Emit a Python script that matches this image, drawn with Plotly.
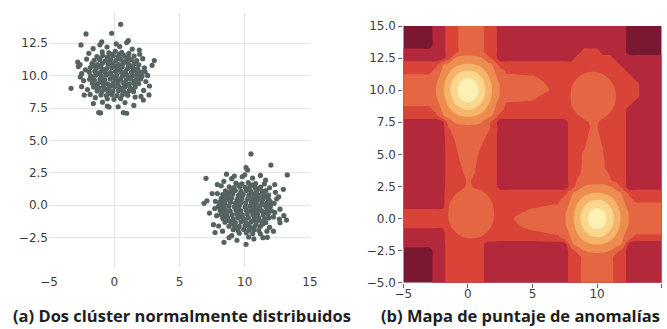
import plotly.graph_objects as go

# ---------------- (a) two normally distributed clusters ----------------
cluster_a = [
    (-0.92, 11.83), (-0.41, 11.76), (0.08, 11.88), (0.57, 11.79), (1.12, 11.72),
    (-1.33, 11.47), (-0.88, 11.55), (-0.52, 11.44), (-0.07, 11.52), (0.31, 11.46), (0.74, 11.56), (1.08, 11.43), (1.52, 11.51),
    (-1.54, 11.18), (-1.12, 11.24), (-0.69, 11.15), (-0.28, 11.22), (0.13, 11.17), (0.49, 11.26), (0.93, 11.14), (1.31, 11.21), (1.72, 11.16),
    (-1.71, 10.93), (-1.28, 10.86), (-0.91, 10.95), (-0.47, 10.88), (-0.12, 10.92), (0.33, 10.85), (0.68, 10.94), (1.09, 10.87), (1.53, 10.91), (1.88, 10.84),
    (-1.83, 10.62), (-1.38, 10.57), (-1.02, 10.64), (-0.58, 10.55), (-0.19, 10.63), (0.22, 10.58), (0.61, 10.66), (1.03, 10.56), (1.41, 10.61), (1.79, 10.57),
    (-1.92, 10.28), (-1.49, 10.33), (-1.07, 10.26), (-0.71, 10.31), (-0.28, 10.24), (0.09, 10.32), (0.52, 10.27), (0.88, 10.34), (1.32, 10.25), (1.69, 10.30), (2.04, 10.27),
    (-1.81, 9.98), (-1.42, 10.03), (-0.98, 9.96), (-0.62, 10.04), (-0.17, 9.97), (0.19, 10.02), (0.63, 9.95), (0.97, 10.05), (1.42, 9.99), (1.77, 10.01), (2.13, 9.96),
    (-1.89, 9.72), (-1.52, 9.66), (-1.09, 9.71), (-0.73, 9.68), (-0.31, 9.74), (0.12, 9.67), (0.48, 9.73), (0.91, 9.66), (1.28, 9.72), (1.71, 9.69), (2.02, 9.74),
    (-1.68, 9.41), (-1.27, 9.37), (-0.88, 9.43), (-0.52, 9.36), (-0.08, 9.42), (0.29, 9.38), (0.72, 9.44), (1.13, 9.35), (1.49, 9.41), (1.87, 9.39),
    (-1.58, 9.12), (-1.19, 9.06), (-0.82, 9.13), (-0.38, 9.08), (0.03, 9.14), (0.41, 9.07), (0.79, 9.11), (1.22, 9.05), (1.61, 9.12),
    (-1.31, 8.82), (-0.93, 8.77), (-0.48, 8.84), (-0.11, 8.79), (0.32, 8.83), (0.71, 8.76), (1.12, 8.81), (1.48, 8.78),
    (-1.02, 8.51), (-0.61, 8.47), (-0.18, 8.53), (0.21, 8.46), (0.63, 8.52), (1.04, 8.48),
    (-0.53, 8.21), (-0.02, 8.17), (0.49, 8.23),
    (-0.20, 11.65), (0.40, 11.66), (-1.10, 11.35), (0.95, 11.33), (-0.45, 11.05), (0.70, 11.06), (-1.50, 10.75), (0.05, 10.75),
    (1.25, 10.74), (-0.85, 10.45), (0.40, 10.44), (1.55, 10.43), (-1.30, 10.15), (-0.40, 10.14), (0.80, 10.16), (1.95, 10.12),
    (-1.70, 9.85), (-0.10, 9.84), (1.10, 9.86), (-0.95, 9.55), (0.30, 9.54), (1.55, 9.56), (-1.40, 9.25), (-0.20, 9.25),
    (1.00, 9.26), (-0.70, 8.95), (0.55, 8.96), (1.35, 8.95), (-0.35, 8.65), (0.85, 8.64),
    (-2.21, 10.45), (-2.35, 9.62), (-2.12, 11.28), (-2.05, 8.93), (2.31, 10.60), (2.42, 9.55), (2.18, 11.31), (2.25, 8.86),
    (-1.62, 12.08), (-0.55, 12.21), (0.42, 12.25), (1.38, 12.05), (-1.45, 8.30), (1.60, 8.35), (-0.90, 7.95), (0.82, 7.92),
    (2.56, 10.02), (-2.50, 10.15), (-1.95, 11.72), (1.95, 11.65), (-1.85, 8.55), (2.05, 8.40), (0.15, 12.45), (-1.10, 12.38),
    (0.95, 12.55), (-2.62, 10.85), (2.70, 9.20),
    (0.49, 13.96), (-2.16, 13.22), (-0.20, 13.27), (-2.55, 12.37), (3.07, 11.16), (-3.31, 9.02), (-2.50, 9.15), (-1.19, 7.15),
    (-1.05, 7.12), (0.70, 7.15), (0.95, 7.10), (-0.53, 7.66), (-0.40, 7.58), (2.23, 8.12), (2.66, 8.51), (-2.75, 10.70),
    (-2.60, 9.90), (-2.80, 11.05), (2.36, 10.30), (-0.96, 12.60), (1.08, 12.70), (1.92, 11.98), (-1.60, 7.85), (0.30, 7.60),
    (1.50, 7.70), (-2.30, 8.50), (2.90, 10.80),
]

cluster_b = [
    (9.32, 1.71), (9.78, 1.66), (10.27, 1.74), (10.83, 1.68),
    (8.81, 1.42), (9.18, 1.37), (9.62, 1.44), (10.03, 1.38), (10.41, 1.45), (10.79, 1.36), (11.22, 1.41),
    (8.52, 1.12), (8.91, 1.06), (9.28, 1.13), (9.71, 1.07), (10.12, 1.14), (10.49, 1.05), (10.91, 1.11), (11.33, 1.08), (11.62, 1.13),
    (8.31, 0.82), (8.72, 0.77), (9.08, 0.84), (9.52, 0.76), (9.88, 0.83), (10.31, 0.78), (10.69, 0.85), (11.12, 0.77), (11.48, 0.82), (11.83, 0.79),
    (8.19, 0.51), (8.62, 0.47), (8.98, 0.53), (9.41, 0.46), (9.79, 0.52), (10.22, 0.48), (10.58, 0.54), (11.03, 0.46), (11.39, 0.51), (11.81, 0.48),
    (8.08, 0.22), (8.49, 0.17), (8.91, 0.23), (9.29, 0.16), (9.72, 0.21), (10.08, 0.18), (10.52, 0.24), (10.88, 0.16), (11.31, 0.22), (11.69, 0.18), (12.02, 0.21),
    (7.98, -0.09), (8.42, -0.14), (8.79, -0.07), (9.21, -0.12), (9.58, -0.06), (10.02, -0.13), (10.39, -0.08), (10.81, -0.14), (11.18, -0.07), (11.62, -0.12), (11.96, -0.08),
    (8.11, -0.41), (8.53, -0.37), (8.88, -0.43), (9.32, -0.36), (9.69, -0.42), (10.12, -0.38), (10.48, -0.44), (10.92, -0.36), (11.28, -0.42), (11.71, -0.38), (12.04, -0.43),
    (8.18, -0.72), (8.61, -0.66), (9.02, -0.73), (9.38, -0.67), (9.81, -0.74), (10.19, -0.68), (10.62, -0.72), (10.98, -0.66), (11.42, -0.73), (11.79, -0.69),
    (8.32, -1.02), (8.69, -0.96), (9.12, -1.04), (9.48, -0.97), (9.91, -1.03), (10.28, -0.98), (10.71, -1.05), (11.08, -0.97), (11.52, -1.02), (11.83, -0.98),
    (8.48, -1.31), (8.92, -1.27), (9.28, -1.34), (9.71, -1.28), (10.09, -1.33), (10.52, -1.26), (10.88, -1.32), (11.31, -1.28), (11.62, -1.33),
    (8.79, -1.62), (9.21, -1.57), (9.58, -1.63), (10.02, -1.58), (10.38, -1.64), (10.82, -1.57), (11.19, -1.61),
    (9.12, -1.88), (9.49, -1.93), (9.92, -1.87), (10.31, -1.92), (10.72, -1.89), (11.08, -1.94),
    (9.58, -2.16), (10.12, -2.12), (10.61, -2.18),
    (9.55, 1.55), (10.55, 1.58), (9.00, 1.25), (10.25, 1.22), (11.00, 1.26), (8.60, 0.95), (9.70, 0.93), (10.90, 0.95),
    (8.45, 0.65), (9.60, 0.64), (10.80, 0.66), (11.60, 0.65), (8.30, 0.35), (9.50, 0.34), (10.70, 0.36), (11.90, 0.34),
    (8.20, 0.05), (9.40, 0.04), (10.60, 0.05), (11.50, 0.06), (8.30, -0.25), (9.50, -0.24), (10.70, -0.26), (11.85, -0.24),
    (8.40, -0.55), (9.60, -0.56), (10.80, -0.54), (11.60, -0.55), (8.50, -0.85), (9.70, -0.86), (10.90, -0.84), (8.70, -1.15),
    (9.90, -1.16), (11.10, -1.14), (9.10, -1.45), (10.30, -1.46), (11.40, -1.45), (9.40, -1.75), (10.60, -1.76),
    (7.75, 0.30), (7.85, -0.80), (12.25, 0.15), (12.20, -0.90), (9.00, 2.05), (10.60, 2.10), (9.80, 2.20), (11.50, 1.65),
    (8.20, 1.50), (8.00, -1.60), (11.90, -1.70), (9.00, -2.35), (10.30, -2.45), (11.20, -2.20), (12.35, 1.00), (7.90, 0.90),
    (12.30, -0.55), (7.70, -0.25), (8.40, 1.85), (11.90, 1.35), (8.30, -2.00), (11.70, -2.00), (10.00, 2.35), (12.45, 0.50),
    (10.48, 3.96), (10.10, 2.90), (10.22, 2.72), (12.00, 3.10), (13.26, 2.34), (7.03, 2.08), (12.96, 1.23), (6.88, 0.15),
    (13.20, -1.14), (12.65, -1.06), (7.72, -2.10), (8.41, -2.86), (10.10, -3.01), (11.40, -2.50), (11.73, -2.47), (12.70, -1.34),
    (7.50, 0.90), (7.30, -0.60), (12.60, 0.65), (12.70, -0.30), (8.60, 2.40), (9.20, 2.25), (11.20, 2.30), (11.60, 1.95),
    (7.90, 1.60), (12.30, 1.60), (7.60, -1.50), (8.80, -2.50), (9.40, -2.70), (10.70, -2.60), (12.20, -2.00), (7.10, 0.35),
    (13.00, -0.80),
]

scatter_xticks = [-5, 0, 5, 10, 15]
scatter_yticks = [-2.5, 0.0, 2.5, 5.0, 7.5, 10.0, 12.5]

# ---------------- (b) anomaly-score map read at grid nodes ----------------
grid_x = [-5.0, -4.5, -4.0, -3.5, -3.0, -2.5, -2.0, -1.5, -1.0, -0.5, 0.0, 0.5, 1.0, 1.5,
          2.0, 2.5, 3.0, 3.5, 4.0, 4.5, 5.0, 5.5, 6.0, 6.5, 7.0, 7.5, 8.0, 8.5, 9.0, 9.5,
          10.0, 10.5, 11.0, 11.5, 12.0, 12.5, 13.0, 13.5, 14.0, 14.5, 15.0]
grid_y_top_down = [15.0, 14.5, 14.0, 13.5, 13.0, 12.5, 12.0, 11.5, 11.0, 10.5, 10.0, 9.5, 9.0,
                   8.5, 8.0, 7.5, 7.0, 6.5, 6.0, 5.5, 5.0, 4.5, 4.0, 3.5, 3.0, 2.5, 2.0, 1.5,
                   1.0, 0.5, 0.0, -0.5, -1.0, -1.5, -2.0, -2.5, -3.0, -3.5, -4.0, -4.5, -5.0]
# coarse band level per node (0 = darkest ... 7 = palest), one row per grid_y (top to bottom)
score_rows = [
    "00000 11 22 3333 22 11111111111 11 11111 11 000000",
    "00000 11 22 3333 22 11111111111 11 11111 11 000000",
    "00000 11 22 3333 22 11111111111 11 11111 11 000000",
    "00000 11 22 3333 22 11111111111 11 11111 11 000000",
    "11111 11 22 3333 22 11111111111 11 22211 11 000000",
    "11111 11 23 4443 32 11111111111 12 22222 11 111111",
    "22222 23 44 4544 43 22222222222 22 22222 21 111111",
    "22222 34 45 5555 44 32222222222 22 23322 22 111111",
    "33333 34 55 6665 54 33333322222 23 33332 22 211111",
    "33333 34 56 7776 54 33333332222 33 33333 22 221111",
    "33333 34 56 7776 54 33333333222 33 33333 22 221111",
    "33333 34 56 7776 54 33333332222 33 33333 22 221111",
    "33333 34 55 6665 54 32222222222 33 33333 22 211111",
    "22222 34 45 5555 44 32222222222 23 33332 22 111111",
    "22222 23 44 4544 43 22222222222 22 33332 22 111111",
    "11111 11 34 4444 32 11111111111 22 23322 22 111111",
    "11111 11 23 3333 32 11111111111 22 22322 22 111111",
    "11111 11 23 3333 22 11111111111 22 23322 22 111111",
    "11111 11 22 3333 22 11111111111 22 23322 22 111111",
    "11111 11 22 3332 22 11111111111 22 23322 22 111111",
    "11111 11 22 3332 22 11111111111 22 33332 22 111111",
    "11111 11 22 2332 22 11111111111 22 33332 22 111111",
    "11111 11 22 2332 22 11111111111 22 33332 22 111111",
    "11111 11 22 2332 22 11111111111 22 33332 22 111111",
    "11111 11 22 2322 22 11111111111 23 33333 22 111111",
    "11111 11 22 2322 22 11111111111 23 44444 32 111111",
    "11111 11 22 3333 22 22222222222 34 44544 43 222222",
    "11111 11 23 3333 32 22222222223 44 55555 44 322222",
    "11111 11 23 3333 33 22222223333 45 56665 54 333333",
    "22222 22 23 3333 33 22223333333 45 67776 54 333333",
    "22222 22 23 3333 33 22233333333 45 67776 54 333333",
    "22222 22 23 3333 33 22223333333 45 67776 54 333333",
    "11111 11 23 3333 32 22222223333 45 56665 54 333333",
    "11111 11 22 3333 22 22222222223 44 55555 44 322222",
    "11111 11 22 2222 11 11111111111 34 44544 43 111111",
    "00000 11 22 2222 11 11111111111 23 44444 32 111111",
    "00000 11 22 2222 11 11111111111 22 33333 22 111111",
    "00000 11 22 2222 11 11111111111 22 33333 22 111111",
    "00000 11 22 2222 11 11111111111 22 33333 22 111111",
    "00000 11 22 2222 11 11111111111 22 33333 22 111111",
    "00000 11 22 2222 11 11111111111 22 33333 22 111111",
]
N = None
# finer score readings around the curved features (None = keep the coarse level)
peak_a = dict(  # bright peak around the upper-left cluster
    x=[-2.5, -2.0, -1.5, -1.0, -0.5, 0.0, 0.5, 1.0, 1.5, 2.0, 2.5],
    y=[12.5, 12.0, 11.5, 11.0, 10.5, 10.0, 9.5, 9.0, 8.5, 8.0, 7.5],
    z=[[N, N, N, 3.58, 3.78, 3.86, 3.78, 3.58, N, N, N],
       [N, 3.37, 3.82, 4.25, 4.52, 4.62, 4.52, 4.25, 3.82, 3.37, N],
       [N, 3.58, 4.30, 4.95, 5.42, 5.58, 5.42, 4.95, 4.30, 3.58, N],
       [N, 3.95, 4.75, 5.58, 6.22, 6.45, 6.22, 5.58, 4.75, 3.95, N],
       [3.40, 4.14, 5.08, 6.05, 6.75, 6.95, 6.75, 6.05, 5.08, 4.14, 3.40],
       [3.44, 4.22, 5.22, 6.25, 6.90, 7.40, 6.90, 6.25, 5.22, 4.22, 3.44],
       [3.40, 4.14, 5.08, 6.05, 6.75, 6.95, 6.75, 6.05, 5.08, 4.14, 3.40],
       [N, 3.95, 4.75, 5.58, 6.22, 6.45, 6.22, 5.58, 4.75, 3.95, N],
       [N, 3.58, 4.30, 4.95, 5.42, 5.58, 5.42, 4.95, 4.30, 3.58, N],
       [N, 3.37, 3.82, 4.25, 4.52, 4.62, 4.52, 4.25, 3.82, 3.37, N],
       [N, N, N, 3.58, 3.78, 3.86, 3.78, 3.58, N, N, N]])
peak_b = dict(  # bright peak around the lower-right cluster
    x=[7.5, 8.0, 8.5, 9.0, 9.5, 10.0, 10.5, 11.0, 11.5, 12.0, 12.5],
    y=[2.5, 2.0, 1.5, 1.0, 0.5, 0.0, -0.5, -1.0, -1.5, -2.0, -2.5],
    z=[[N, N, N, 3.53, 3.70, 3.78, 3.70, 3.53, N, N, N],
       [N, 3.35, 3.77, 4.18, 4.43, 4.52, 4.43, 4.18, 3.77, 3.35, N],
       [N, 3.55, 4.23, 4.84, 5.28, 5.42, 5.28, 4.84, 4.23, 3.55, N],
       [N, 3.90, 4.66, 5.42, 6.06, 6.31, 6.06, 5.42, 4.66, 3.90, N],
       [3.38, 4.08, 4.97, 5.90, 6.63, 6.85, 6.63, 5.90, 4.97, 4.08, 3.38],
       [3.42, 4.17, 5.10, 6.10, 6.80, 7.30, 6.80, 6.10, 5.10, 4.17, 3.42],
       [3.38, 4.08, 4.97, 5.90, 6.63, 6.85, 6.63, 5.90, 4.97, 4.08, 3.38],
       [N, 3.90, 4.66, 5.42, 6.06, 6.31, 6.06, 5.42, 4.66, 3.90, N],
       [N, 3.55, 4.23, 4.84, 5.28, 5.42, 5.28, 4.84, 4.23, 3.55, N],
       [N, 3.35, 3.77, 4.18, 4.43, 4.52, 4.43, 4.18, 3.77, 3.35, N],
       [N, N, N, 3.53, 3.70, 3.78, 3.70, 3.53, N, N, N]])
lobe_lower_left = dict(  # rounded lobe near (0, 0)
    x=[-1.5, -1.0, -0.5, 0.0, 0.5, 1.0, 1.5, 2.0],
    y=[2.5, 2.0, 1.5, 1.0, 0.5, 0.0, -0.5, -1.0, -1.5],
    z=[[2.11, 2.27, 2.38, 2.60, 2.45, 2.38, 2.27, 2.11],
       [2.27, 2.45, 2.59, 2.67, 2.67, 2.59, 2.45, 2.27],
       [2.39, 2.60, 2.78, 2.89, 2.89, 2.78, 2.60, 2.39],
       [2.48, 2.72, 2.94, 3.10, 3.10, 2.94, 2.72, 2.48],
       [2.52, 2.77, 3.02, 3.27, 3.27, 3.02, 2.77, 2.52],
       [2.51, 2.75, 2.98, 3.18, 3.18, 2.98, 2.75, 2.51],
       [2.44, 2.66, 2.85, 2.98, 2.98, 2.85, 2.66, 2.44],
       [2.32, 2.51, 2.67, 2.76, 2.76, 2.67, 2.51, 2.32],
       [2.18, 2.34, 2.47, 2.54, 2.54, 2.47, 2.34, 2.18]])
lobe_upper_right = dict(  # rounded lobe near (10, 10)
    x=[8.0, 8.5, 9.0, 9.5, 10.0, 10.5, 11.0, 11.5],
    y=[11.5, 11.0, 10.5, 10.0, 9.5, 9.0, 8.5, 8.0, 7.5],
    z=[[2.15, 2.30, 2.41, 2.47, 2.46, 2.39, 2.26, 2.10],
       [2.31, 2.49, 2.63, 2.70, 2.69, 2.59, 2.44, 2.25],
       [2.44, 2.65, 2.83, 2.93, 2.91, 2.78, 2.59, 2.37],
       [2.52, 2.76, 2.99, 3.16, 3.12, 2.93, 2.70, 2.45],
       [2.55, 2.80, 3.06, 3.31, 3.24, 2.99, 2.73, 2.48],
       [2.52, 2.76, 2.98, 3.14, 3.11, 2.92, 2.69, 2.45],
       [2.43, 2.64, 2.81, 2.92, 2.90, 2.77, 2.58, 2.36],
       [2.29, 2.47, 2.61, 2.69, 2.67, 2.58, 2.43, 2.25],
       [2.13, 2.28, 2.40, 2.55, 2.55, 2.37, 2.24, 2.09]])
taper_down_from_a = dict(
    x=[-1.5, -1.0, -0.5, 0.0, 0.5, 1.0, 1.5, 2.0],
    y=[7.0, 6.5, 6.0, 5.5, 5.0, 4.5, 4.0, 3.5, 3.0],
    z=[[2.42, 2.82, 3.00, 3.00, 3.00, 3.00, 2.66, 2.26],
       [2.26, 2.66, 3.00, 3.00, 3.00, 2.85, 2.45, 2.05],
       [2.10, 2.49, 2.90, 3.00, 3.00, 2.66, 2.26, 2.00],
       [2.00, 2.40, 2.80, 3.00, 2.89, 2.49, 2.09, 2.00],
       [2.00, 2.30, 2.70, 3.00, 2.75, 2.35, 2.00, 2.00],
       [2.00, 2.20, 2.60, 3.00, 2.66, 2.26, 2.00, 2.00],
       [2.00, 2.10, 2.49, 2.90, 2.58, 2.18, 2.00, 2.00],
       [2.00, 2.00, 2.36, 2.76, 2.52, 2.12, 2.00, 2.00],
       [2.00, 2.00, 2.22, 2.62, 2.38, 2.10, 2.00, 2.00]])
taper_up_from_b = dict(
    x=[8.5, 9.0, 9.5, 10.0, 10.5, 11.0, 11.5],
    y=[7.0, 6.5, 6.0, 5.5, 5.0, 4.5, 4.0, 3.5, 3.0],
    z=[[2.00, 2.14, 2.54, 2.54, 2.14, 2.00, 2.00],
       [2.00, 2.26, 2.66, 2.66, 2.26, 2.00, 2.00],
       [2.00, 2.34, 2.74, 2.74, 2.34, 2.00, 2.00],
       [2.06, 2.46, 2.86, 2.86, 2.46, 2.06, 2.00],
       [2.26, 2.66, 3.00, 2.90, 2.49, 2.10, 2.00],
       [2.24, 2.64, 3.00, 2.96, 2.56, 2.16, 2.00],
       [2.26, 2.66, 3.00, 2.98, 2.58, 2.18, 2.00],
       [2.34, 2.74, 3.00, 3.00, 2.82, 2.42, 2.02],
       [2.58, 2.98, 3.00, 3.00, 3.00, 2.58, 2.18]])
arm_right_from_a = dict(
    x=[3.0, 3.5, 4.0, 4.5, 5.0, 5.5, 6.0, 6.5],
    y=[11.5, 11.0, 10.5, 10.0, 9.5, 9.0, 8.5],
    z=[[2.33, 2.30, 2.26, 2.22, 2.21, 2.00, 2.00, 2.00],
       [2.73, 2.70, 2.66, 2.64, 2.61, 2.42, 2.10, 2.00],
       [3.00, 3.00, 3.00, 3.00, 3.00, 2.82, 2.49, 2.10],
       [3.00, 3.00, 3.00, 3.00, 3.00, 2.90, 2.66, 2.40],
       [2.86, 2.84, 2.82, 2.78, 2.74, 2.49, 2.26, 2.00],
       [2.46, 2.44, 2.42, 2.38, 2.34, 2.10, 2.00, 2.00],
       [2.06, 2.04, 2.00, 2.00, 2.00, 2.00, 2.00, 2.00]])
arm_left_from_b = dict(
    x=[3.5, 4.0, 4.5, 5.0, 5.5, 6.0, 6.5, 7.0],
    y=[1.5, 1.0, 0.5, 0.0, -0.5, -1.0, -1.5],
    z=[[2.00, 2.00, 2.00, 2.00, 2.01, 2.10, 2.16, 2.21],
       [2.00, 2.00, 2.18, 2.32, 2.41, 2.49, 2.56, 2.61],
       [2.06, 2.38, 2.58, 2.72, 2.81, 2.90, 2.96, 3.00],
       [2.45, 2.78, 2.98, 3.00, 3.00, 3.00, 3.00, 3.00],
       [2.10, 2.54, 2.74, 2.84, 2.91, 2.98, 3.00, 3.00],
       [2.00, 2.14, 2.34, 2.44, 2.51, 2.58, 2.68, 2.74],
       [2.00, 2.00, 2.00, 2.04, 2.11, 2.18, 2.28, 2.34]])
fine_readings = [peak_a, peak_b, lobe_lower_left, lobe_upper_right,
                 taper_down_from_a, taper_up_from_b, arm_right_from_a, arm_left_from_b]

band_colors = ["#7a1832", "#b4283c", "#da4438", "#e56642",
               "#ee8c50", "#f5b469", "#fad78c", "#fdf0b4"]
map_xticks = [-5, 0, 5, 10, 15]
map_yticks = [-5.0, -2.5, 0.0, 2.5, 5.0, 7.5, 10.0, 12.5, 15.0]

captions = ["(a) Dos clúster normalmente distribuidos", "(b) Mapa de puntaje de anomalías"]

# ---------------- build ----------------
rows = [r.replace(" ", "") for r in score_rows]
assert all(len(r) == len(grid_x) for r in rows) and len(rows) == len(grid_y_top_down)
z_top_down = [[float(ch) for ch in r] for r in rows]
for patch in fine_readings:
    for yy, zrow in zip(patch["y"], patch["z"]):
        iy = grid_y_top_down.index(yy)
        for xx, val in zip(patch["x"], zrow):
            if val is not None:
                z_top_down[iy][grid_x.index(xx)] = val
z = list(reversed(z_top_down))
grid_y = list(reversed(grid_y_top_down))

n = len(band_colors) - 1
colorscale = [[k / n, c] for k, c in enumerate(band_colors)]

pts = cluster_a + cluster_b

fig = go.Figure()
fig.add_trace(go.Scatter(
    x=[p[0] for p in pts], y=[p[1] for p in pts], mode="markers",
    marker=dict(size=5.2, color="#566262", line=dict(width=0)),
    xaxis="x", yaxis="y", showlegend=False, hoverinfo="skip"))

fig.add_trace(go.Contour(
    x=grid_x, y=grid_y, z=z, xaxis="x2", yaxis="y2",
    contours=dict(start=0.5, end=n - 0.5, size=1, coloring="fill", showlines=False),
    line=dict(width=0, smoothing=1.0),
    colorscale=colorscale, showscale=False, hoverinfo="skip"))

W, H = 667, 329
tickfont = dict(family="DejaVu Sans", size=12, color="#3c3c3c")

fig.update_layout(
    width=W, height=H, autosize=False,
    margin=dict(l=0, r=0, t=0, b=0, pad=0),
    paper_bgcolor="white", plot_bgcolor="white",
    xaxis=dict(domain=[49 / W, 310 / W], range=[-5, 15], tickvals=scatter_xticks,
               showgrid=True, gridcolor="#e3e3e3", gridwidth=1, zeroline=False,
               showline=False, ticks="", tickfont=tickfont, anchor="y", automargin=False,
               ticklabelstandoff=6),
    yaxis=dict(domain=[1 - 266.7 / H, 1 - 13.3 / H], range=[-4.74, 14.81],
               tickvals=scatter_yticks, tickformat=".1f",
               showgrid=True, gridcolor="#e3e3e3", gridwidth=1, zeroline=False,
               showline=False, ticks="", tickfont=tickfont, anchor="x", automargin=False),
    xaxis2=dict(domain=[403.3 / W, 661.7 / W], range=[-5, 15], tickvals=map_xticks,
                showgrid=False, zeroline=False, showline=False, ticks="outside",
                ticklen=4, tickwidth=1, tickcolor="#666666", tickfont=tickfont,
                anchor="y2", automargin=False, ticklabelstandoff=-4),
    yaxis2=dict(domain=[1 - 282.7 / H, 1 - 26 / H], range=[-5, 15], tickvals=map_yticks,
                tickformat=".1f", showgrid=False, zeroline=False, showline=False,
                ticks="outside", ticklen=4, tickwidth=1, tickcolor="#666666",
                tickfont=tickfont, anchor="x2", automargin=False),
)

capfont = dict(family="Open Sans", size=16.5, color="#1e1e1e", weight="bold")
fig.add_annotation(text=captions[0], xref="paper", yref="paper", x=182 / W, y=1 - 315 / H,
                   xanchor="center", yanchor="middle", showarrow=False, font=capfont)
fig.add_annotation(text=captions[1], xref="paper", yref="paper", x=520 / W, y=1 - 315 / H,
                   xanchor="center", yanchor="middle", showarrow=False, font=capfont)

fig.write_html("out.html")
